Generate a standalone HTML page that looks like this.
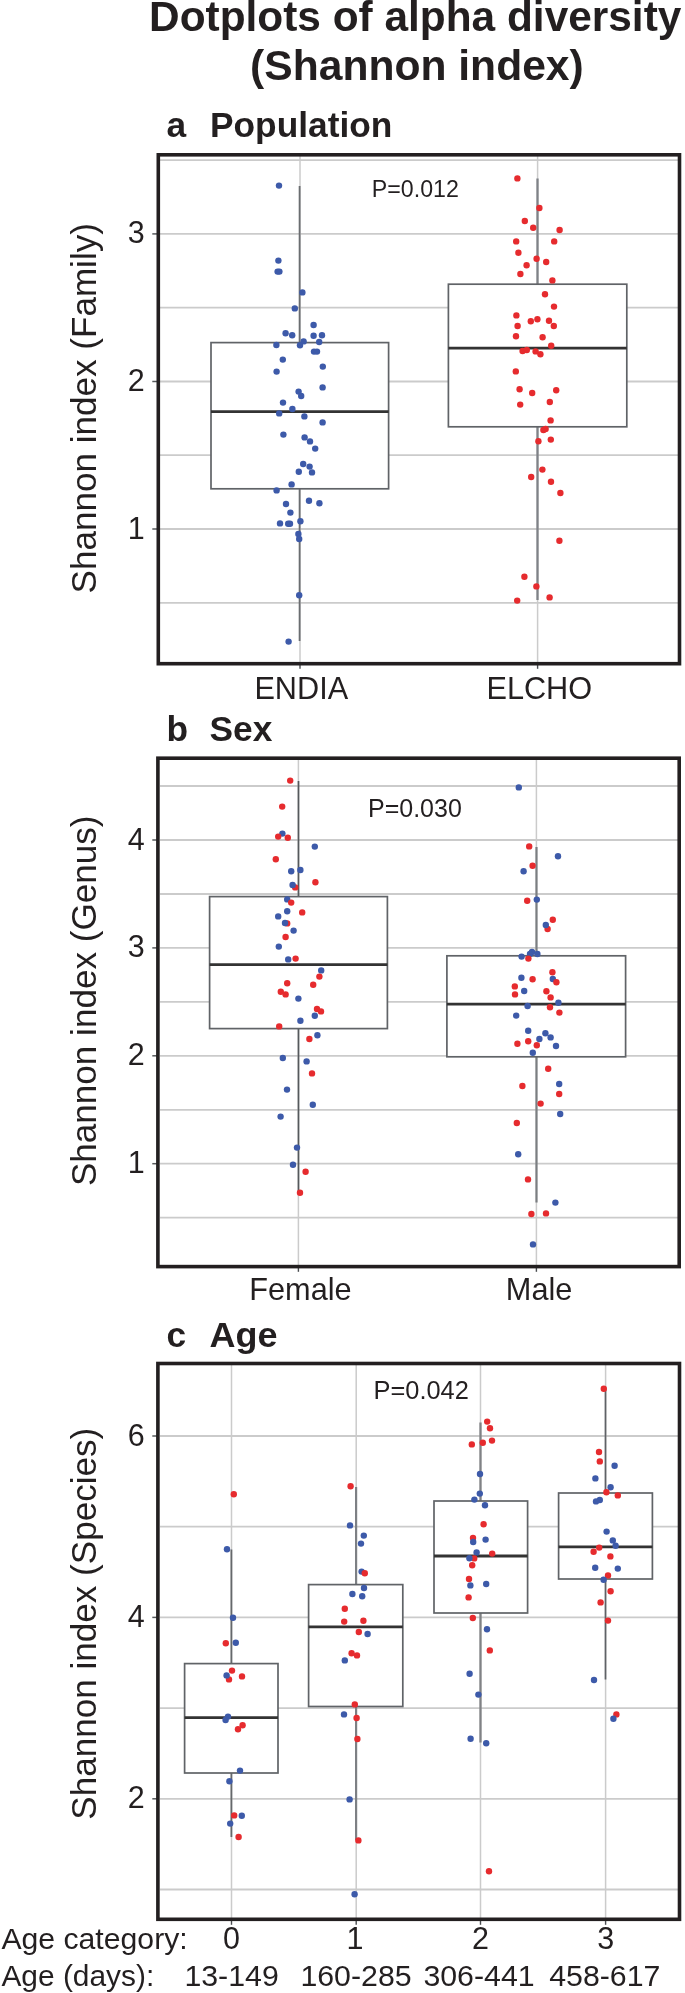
<!DOCTYPE html>
<html><head><meta charset="utf-8"><title>Dotplots of alpha diversity</title>
<style>
html,body{margin:0;padding:0;background:#fff;}
body{width:685px;height:1993px;overflow:hidden;}
svg{display:block;will-change:transform;}
text{font-family:"Liberation Sans", sans-serif;fill:#231f20;}
</style></head>
<body>
<svg width="685" height="1993" viewBox="0 0 685 1993">
<rect x="0" y="0" width="685" height="1993" fill="#fff"/>
<line x1="160" y1="160.1" x2="678" y2="160.1" stroke="#cbcbcb" stroke-width="1.8"/>
<line x1="160" y1="233.9" x2="678" y2="233.9" stroke="#cbcbcb" stroke-width="1.8"/>
<line x1="160" y1="307.7" x2="678" y2="307.7" stroke="#cbcbcb" stroke-width="1.8"/>
<line x1="160" y1="381.5" x2="678" y2="381.5" stroke="#cbcbcb" stroke-width="1.8"/>
<line x1="160" y1="455.2" x2="678" y2="455.2" stroke="#cbcbcb" stroke-width="1.8"/>
<line x1="160" y1="529.0" x2="678" y2="529.0" stroke="#cbcbcb" stroke-width="1.8"/>
<line x1="160" y1="602.8" x2="678" y2="602.8" stroke="#cbcbcb" stroke-width="1.8"/>
<line x1="300" y1="156" x2="300" y2="662" stroke="#cbcbcb" stroke-width="1.5"/>
<line x1="537.6" y1="156" x2="537.6" y2="662" stroke="#cbcbcb" stroke-width="1.5"/>
<line x1="152.3" y1="233.9" x2="158" y2="233.9" stroke="#55585b" stroke-width="1.5"/>
<line x1="152.3" y1="381.5" x2="158" y2="381.5" stroke="#55585b" stroke-width="1.5"/>
<line x1="152.3" y1="529.0" x2="158" y2="529.0" stroke="#55585b" stroke-width="1.5"/>
<line x1="300" y1="664" x2="300" y2="668.8" stroke="#4a4d50" stroke-width="1.4"/>
<line x1="537.6" y1="664" x2="537.6" y2="668.8" stroke="#4a4d50" stroke-width="1.4"/>
<line x1="299.6" y1="186" x2="299.6" y2="641" stroke="#6a6d70" stroke-width="1.8"/>
<rect x="211" y="342.6" width="177.60000000000002" height="146.2" fill="#fff" stroke="#606367" stroke-width="1.7"/>
<line x1="211" y1="411.6" x2="388.6" y2="411.6" stroke="#333" stroke-width="2.8"/>
<line x1="537.5" y1="178.4" x2="537.5" y2="600" stroke="#7f8287" stroke-width="2.3"/>
<rect x="448.4" y="284.2" width="178.39999999999998" height="142.60000000000002" fill="#fff" stroke="#606367" stroke-width="1.7"/>
<line x1="448.4" y1="348.2" x2="626.8" y2="348.2" stroke="#333" stroke-width="2.8"/>
<circle fill="#3d5aa9" cx="279" cy="185.6" r="3.2"/>
<circle fill="#3d5aa9" cx="278.4" cy="260.6" r="3.2"/>
<circle fill="#3d5aa9" cx="277.6" cy="271.6" r="3.2"/>
<circle fill="#3d5aa9" cx="279.4" cy="271.6" r="3.2"/>
<circle fill="#3d5aa9" cx="302.4" cy="292.4" r="3.2"/>
<circle fill="#3d5aa9" cx="294.8" cy="308.4" r="3.2"/>
<circle fill="#3d5aa9" cx="313.6" cy="325" r="3.2"/>
<circle fill="#3d5aa9" cx="285.6" cy="333.2" r="3.2"/>
<circle fill="#3d5aa9" cx="292.2" cy="335.2" r="3.2"/>
<circle fill="#3d5aa9" cx="313.6" cy="335.8" r="3.2"/>
<circle fill="#3d5aa9" cx="322" cy="335.2" r="3.2"/>
<circle fill="#3d5aa9" cx="303.6" cy="341.4" r="3.2"/>
<circle fill="#3d5aa9" cx="319.2" cy="342" r="3.2"/>
<circle fill="#3d5aa9" cx="276.4" cy="345" r="3.2"/>
<circle fill="#3d5aa9" cx="300" cy="345.2" r="3.2"/>
<circle fill="#3d5aa9" cx="314" cy="351.6" r="3.2"/>
<circle fill="#3d5aa9" cx="317" cy="351.6" r="3.2"/>
<circle fill="#3d5aa9" cx="282.8" cy="359.6" r="3.2"/>
<circle fill="#3d5aa9" cx="322.8" cy="366.6" r="3.2"/>
<circle fill="#3d5aa9" cx="276.6" cy="371.6" r="3.2"/>
<circle fill="#3d5aa9" cx="322.6" cy="387.4" r="3.2"/>
<circle fill="#3d5aa9" cx="298.6" cy="391.6" r="3.2"/>
<circle fill="#3d5aa9" cx="301.2" cy="396" r="3.2"/>
<circle fill="#3d5aa9" cx="283" cy="402.6" r="3.2"/>
<circle fill="#3d5aa9" cx="292.4" cy="409" r="3.2"/>
<circle fill="#3d5aa9" cx="279.2" cy="413.4" r="3.2"/>
<circle fill="#3d5aa9" cx="304.4" cy="416.4" r="3.2"/>
<circle fill="#3d5aa9" cx="322.6" cy="422.4" r="3.2"/>
<circle fill="#3d5aa9" cx="283.4" cy="434.6" r="3.2"/>
<circle fill="#3d5aa9" cx="304.6" cy="437.4" r="3.2"/>
<circle fill="#3d5aa9" cx="310" cy="441.4" r="3.2"/>
<circle fill="#3d5aa9" cx="315.2" cy="448.6" r="3.2"/>
<circle fill="#3d5aa9" cx="303.2" cy="464" r="3.2"/>
<circle fill="#3d5aa9" cx="309.6" cy="466.6" r="3.2"/>
<circle fill="#3d5aa9" cx="298.8" cy="471.8" r="3.2"/>
<circle fill="#3d5aa9" cx="312" cy="472.4" r="3.2"/>
<circle fill="#3d5aa9" cx="291.6" cy="484.4" r="3.2"/>
<circle fill="#3d5aa9" cx="276.6" cy="490.4" r="3.2"/>
<circle fill="#3d5aa9" cx="309" cy="500.8" r="3.2"/>
<circle fill="#3d5aa9" cx="319.4" cy="503.2" r="3.2"/>
<circle fill="#3d5aa9" cx="286" cy="504" r="3.2"/>
<circle fill="#3d5aa9" cx="290.4" cy="512.6" r="3.2"/>
<circle fill="#3d5aa9" cx="300.4" cy="521.2" r="3.2"/>
<circle fill="#3d5aa9" cx="280" cy="523.4" r="3.2"/>
<circle fill="#3d5aa9" cx="288.2" cy="523.8" r="3.2"/>
<circle fill="#3d5aa9" cx="290" cy="523.8" r="3.2"/>
<circle fill="#3d5aa9" cx="298.4" cy="534" r="3.2"/>
<circle fill="#3d5aa9" cx="299.2" cy="539" r="3.2"/>
<circle fill="#3d5aa9" cx="299.2" cy="595.2" r="3.2"/>
<circle fill="#3d5aa9" cx="288.6" cy="641.6" r="3.2"/>
<circle fill="#e62b2e" cx="517.4" cy="178.4" r="3.2"/>
<circle fill="#e62b2e" cx="539.4" cy="208" r="3.2"/>
<circle fill="#e62b2e" cx="524.8" cy="221" r="3.2"/>
<circle fill="#e62b2e" cx="533.2" cy="227.8" r="3.2"/>
<circle fill="#e62b2e" cx="559.6" cy="230" r="3.2"/>
<circle fill="#e62b2e" cx="516.2" cy="241.4" r="3.2"/>
<circle fill="#e62b2e" cx="554.2" cy="241.4" r="3.2"/>
<circle fill="#e62b2e" cx="518.4" cy="252.8" r="3.2"/>
<circle fill="#e62b2e" cx="536.6" cy="258.8" r="3.2"/>
<circle fill="#e62b2e" cx="546.2" cy="262" r="3.2"/>
<circle fill="#e62b2e" cx="526.6" cy="265.2" r="3.2"/>
<circle fill="#e62b2e" cx="520.4" cy="274" r="3.2"/>
<circle fill="#e62b2e" cx="552.4" cy="280.4" r="3.2"/>
<circle fill="#e62b2e" cx="545" cy="294.2" r="3.2"/>
<circle fill="#e62b2e" cx="554" cy="306.6" r="3.2"/>
<circle fill="#e62b2e" cx="516.4" cy="315.4" r="3.2"/>
<circle fill="#e62b2e" cx="530.8" cy="321.2" r="3.2"/>
<circle fill="#e62b2e" cx="537.4" cy="319.2" r="3.2"/>
<circle fill="#e62b2e" cx="549" cy="320.8" r="3.2"/>
<circle fill="#e62b2e" cx="553.8" cy="326" r="3.2"/>
<circle fill="#e62b2e" cx="517.6" cy="326" r="3.2"/>
<circle fill="#e62b2e" cx="516" cy="336.2" r="3.2"/>
<circle fill="#e62b2e" cx="542.6" cy="337.2" r="3.2"/>
<circle fill="#e62b2e" cx="551.2" cy="345.8" r="3.2"/>
<circle fill="#e62b2e" cx="522.6" cy="351" r="3.2"/>
<circle fill="#e62b2e" cx="526.8" cy="350" r="3.2"/>
<circle fill="#e62b2e" cx="535.6" cy="351.4" r="3.2"/>
<circle fill="#e62b2e" cx="540.4" cy="354.2" r="3.2"/>
<circle fill="#e62b2e" cx="515.8" cy="371.4" r="3.2"/>
<circle fill="#e62b2e" cx="519.6" cy="389.2" r="3.2"/>
<circle fill="#e62b2e" cx="532.2" cy="393" r="3.2"/>
<circle fill="#e62b2e" cx="556.2" cy="390.2" r="3.2"/>
<circle fill="#e62b2e" cx="549.8" cy="402" r="3.2"/>
<circle fill="#e62b2e" cx="520.2" cy="404.6" r="3.2"/>
<circle fill="#e62b2e" cx="550.6" cy="420.4" r="3.2"/>
<circle fill="#e62b2e" cx="543.4" cy="430" r="3.2"/>
<circle fill="#e62b2e" cx="545.6" cy="429" r="3.2"/>
<circle fill="#e62b2e" cx="538.4" cy="441.2" r="3.2"/>
<circle fill="#e62b2e" cx="550.8" cy="439.6" r="3.2"/>
<circle fill="#e62b2e" cx="542.4" cy="469.6" r="3.2"/>
<circle fill="#e62b2e" cx="531.2" cy="477" r="3.2"/>
<circle fill="#e62b2e" cx="551" cy="481.8" r="3.2"/>
<circle fill="#e62b2e" cx="560.4" cy="493" r="3.2"/>
<circle fill="#e62b2e" cx="559.4" cy="540.8" r="3.2"/>
<circle fill="#e62b2e" cx="524.4" cy="576.8" r="3.2"/>
<circle fill="#e62b2e" cx="536.4" cy="586.4" r="3.2"/>
<circle fill="#e62b2e" cx="549.6" cy="597.4" r="3.2"/>
<circle fill="#e62b2e" cx="517.2" cy="600.6" r="3.2"/>
<rect x="158.3" y="154.8" width="521.2" height="508.9" fill="none" stroke="#231f20" stroke-width="3.6"/>
<line x1="160" y1="786.0" x2="678" y2="786.0" stroke="#cbcbcb" stroke-width="1.8"/>
<line x1="160" y1="840.0" x2="678" y2="840.0" stroke="#cbcbcb" stroke-width="1.8"/>
<line x1="160" y1="894.0" x2="678" y2="894.0" stroke="#cbcbcb" stroke-width="1.8"/>
<line x1="160" y1="947.9" x2="678" y2="947.9" stroke="#cbcbcb" stroke-width="1.8"/>
<line x1="160" y1="1001.9" x2="678" y2="1001.9" stroke="#cbcbcb" stroke-width="1.8"/>
<line x1="160" y1="1055.8" x2="678" y2="1055.8" stroke="#cbcbcb" stroke-width="1.8"/>
<line x1="160" y1="1109.8" x2="678" y2="1109.8" stroke="#cbcbcb" stroke-width="1.8"/>
<line x1="160" y1="1163.7" x2="678" y2="1163.7" stroke="#cbcbcb" stroke-width="1.8"/>
<line x1="160" y1="1217.7" x2="678" y2="1217.7" stroke="#cbcbcb" stroke-width="1.8"/>
<line x1="298.4" y1="760" x2="298.4" y2="1265" stroke="#cbcbcb" stroke-width="1.5"/>
<line x1="536.4" y1="760" x2="536.4" y2="1265" stroke="#cbcbcb" stroke-width="1.5"/>
<line x1="152.3" y1="840.0" x2="158" y2="840.0" stroke="#55585b" stroke-width="1.5"/>
<line x1="152.3" y1="947.9" x2="158" y2="947.9" stroke="#55585b" stroke-width="1.5"/>
<line x1="152.3" y1="1055.8" x2="158" y2="1055.8" stroke="#55585b" stroke-width="1.5"/>
<line x1="152.3" y1="1163.7" x2="158" y2="1163.7" stroke="#55585b" stroke-width="1.5"/>
<line x1="298.4" y1="1267" x2="298.4" y2="1271.8" stroke="#4a4d50" stroke-width="1.4"/>
<line x1="536.4" y1="1267" x2="536.4" y2="1271.8" stroke="#4a4d50" stroke-width="1.4"/>
<line x1="298.5" y1="781" x2="298.5" y2="1192.4" stroke="#55595c" stroke-width="1.7"/>
<rect x="209.6" y="896.6" width="177.79999999999998" height="131.9999999999999" fill="#fff" stroke="#606367" stroke-width="1.7"/>
<line x1="209.6" y1="964.6" x2="387.4" y2="964.6" stroke="#333" stroke-width="2.8"/>
<line x1="536.5" y1="847" x2="536.5" y2="1202.4" stroke="#7b7e81" stroke-width="2.2"/>
<rect x="446.9" y="955.8" width="178.70000000000005" height="101.0" fill="#fff" stroke="#606367" stroke-width="1.7"/>
<line x1="446.9" y1="1004.2" x2="625.6" y2="1004.2" stroke="#333" stroke-width="2.8"/>
<circle fill="#e62b2e" cx="290.2" cy="780.6" r="3.2"/>
<circle fill="#e62b2e" cx="282.2" cy="806.6" r="3.2"/>
<circle fill="#3d5aa9" cx="282.4" cy="833.6" r="3.2"/>
<circle fill="#e62b2e" cx="278.2" cy="836.6" r="3.2"/>
<circle fill="#e62b2e" cx="287.8" cy="837.8" r="3.2"/>
<circle fill="#3d5aa9" cx="314.8" cy="846.6" r="3.2"/>
<circle fill="#e62b2e" cx="275.8" cy="859.2" r="3.2"/>
<circle fill="#3d5aa9" cx="291.2" cy="871.2" r="3.2"/>
<circle fill="#3d5aa9" cx="300.4" cy="870" r="3.2"/>
<circle fill="#e62b2e" cx="315.4" cy="882.2" r="3.2"/>
<circle fill="#e62b2e" cx="295.2" cy="887.4" r="3.2"/>
<circle fill="#3d5aa9" cx="292.6" cy="885" r="3.2"/>
<circle fill="#3d5aa9" cx="287.2" cy="899.4" r="3.2"/>
<circle fill="#e62b2e" cx="291.2" cy="902.6" r="3.2"/>
<circle fill="#3d5aa9" cx="287.2" cy="911.2" r="3.2"/>
<circle fill="#e62b2e" cx="302.2" cy="912.4" r="3.2"/>
<circle fill="#3d5aa9" cx="278.2" cy="916.4" r="3.2"/>
<circle fill="#e62b2e" cx="287.2" cy="923.4" r="3.2"/>
<circle fill="#3d5aa9" cx="285" cy="923" r="3.2"/>
<circle fill="#3d5aa9" cx="293.6" cy="930.6" r="3.2"/>
<circle fill="#e62b2e" cx="285.6" cy="937" r="3.2"/>
<circle fill="#3d5aa9" cx="278.8" cy="946.6" r="3.2"/>
<circle fill="#3d5aa9" cx="288.2" cy="959.4" r="3.2"/>
<circle fill="#e62b2e" cx="295.6" cy="958.6" r="3.2"/>
<circle fill="#3d5aa9" cx="321.2" cy="970.4" r="3.2"/>
<circle fill="#e62b2e" cx="319.4" cy="976.6" r="3.2"/>
<circle fill="#e62b2e" cx="287.2" cy="983.2" r="3.2"/>
<circle fill="#e62b2e" cx="313.2" cy="984.8" r="3.2"/>
<circle fill="#e62b2e" cx="280.8" cy="991.8" r="3.2"/>
<circle fill="#e62b2e" cx="285.6" cy="994.4" r="3.2"/>
<circle fill="#3d5aa9" cx="298.4" cy="998.6" r="3.2"/>
<circle fill="#e62b2e" cx="317" cy="1009" r="3.2"/>
<circle fill="#e62b2e" cx="321" cy="1011.4" r="3.2"/>
<circle fill="#3d5aa9" cx="314.8" cy="1015.8" r="3.2"/>
<circle fill="#3d5aa9" cx="300.4" cy="1020.8" r="3.2"/>
<circle fill="#e62b2e" cx="279.2" cy="1026.4" r="3.2"/>
<circle fill="#3d5aa9" cx="317.4" cy="1035.2" r="3.2"/>
<circle fill="#e62b2e" cx="309.4" cy="1039" r="3.2"/>
<circle fill="#3d5aa9" cx="282.8" cy="1058" r="3.2"/>
<circle fill="#3d5aa9" cx="306.6" cy="1061.4" r="3.2"/>
<circle fill="#e62b2e" cx="312" cy="1073.4" r="3.2"/>
<circle fill="#3d5aa9" cx="287" cy="1089.6" r="3.2"/>
<circle fill="#3d5aa9" cx="312.8" cy="1104.8" r="3.2"/>
<circle fill="#3d5aa9" cx="280.6" cy="1116.6" r="3.2"/>
<circle fill="#3d5aa9" cx="297" cy="1147.6" r="3.2"/>
<circle fill="#3d5aa9" cx="293" cy="1164.8" r="3.2"/>
<circle fill="#e62b2e" cx="305.6" cy="1171.8" r="3.2"/>
<circle fill="#e62b2e" cx="300" cy="1192.8" r="3.2"/>
<circle fill="#3d5aa9" cx="518.8" cy="787.4" r="3.2"/>
<circle fill="#e62b2e" cx="529.2" cy="846.4" r="3.2"/>
<circle fill="#3d5aa9" cx="558" cy="856.2" r="3.2"/>
<circle fill="#e62b2e" cx="532.6" cy="865.8" r="3.2"/>
<circle fill="#3d5aa9" cx="523.6" cy="871.2" r="3.2"/>
<circle fill="#e62b2e" cx="527.2" cy="900.8" r="3.2"/>
<circle fill="#3d5aa9" cx="536.8" cy="899.6" r="3.2"/>
<circle fill="#e62b2e" cx="552.8" cy="919.8" r="3.2"/>
<circle fill="#e62b2e" cx="547.6" cy="929" r="3.2"/>
<circle fill="#3d5aa9" cx="545.8" cy="925" r="3.2"/>
<circle fill="#3d5aa9" cx="532" cy="952" r="3.2"/>
<circle fill="#3d5aa9" cx="530" cy="954" r="3.2"/>
<circle fill="#3d5aa9" cx="537.4" cy="954" r="3.2"/>
<circle fill="#3d5aa9" cx="521.6" cy="956.6" r="3.2"/>
<circle fill="#e62b2e" cx="528.4" cy="958.6" r="3.2"/>
<circle fill="#e62b2e" cx="552.4" cy="972.2" r="3.2"/>
<circle fill="#3d5aa9" cx="521.4" cy="977.8" r="3.2"/>
<circle fill="#e62b2e" cx="532.6" cy="979.2" r="3.2"/>
<circle fill="#3d5aa9" cx="552.8" cy="979" r="3.2"/>
<circle fill="#e62b2e" cx="556.4" cy="982.2" r="3.2"/>
<circle fill="#e62b2e" cx="514.8" cy="986.4" r="3.2"/>
<circle fill="#3d5aa9" cx="524.2" cy="991" r="3.2"/>
<circle fill="#e62b2e" cx="546.4" cy="991.2" r="3.2"/>
<circle fill="#e62b2e" cx="515" cy="994.4" r="3.2"/>
<circle fill="#e62b2e" cx="550.6" cy="997.4" r="3.2"/>
<circle fill="#3d5aa9" cx="558.4" cy="1002.8" r="3.2"/>
<circle fill="#3d5aa9" cx="527.6" cy="1006" r="3.2"/>
<circle fill="#e62b2e" cx="550" cy="1007.2" r="3.2"/>
<circle fill="#e62b2e" cx="559.4" cy="1012.6" r="3.2"/>
<circle fill="#3d5aa9" cx="516.2" cy="1015.6" r="3.2"/>
<circle fill="#3d5aa9" cx="528.2" cy="1030.8" r="3.2"/>
<circle fill="#3d5aa9" cx="545.4" cy="1033.2" r="3.2"/>
<circle fill="#3d5aa9" cx="550.6" cy="1037.4" r="3.2"/>
<circle fill="#3d5aa9" cx="539.4" cy="1039" r="3.2"/>
<circle fill="#e62b2e" cx="517.4" cy="1043.8" r="3.2"/>
<circle fill="#e62b2e" cx="528.2" cy="1041.2" r="3.2"/>
<circle fill="#e62b2e" cx="536.8" cy="1045.2" r="3.2"/>
<circle fill="#3d5aa9" cx="556" cy="1046" r="3.2"/>
<circle fill="#3d5aa9" cx="532.8" cy="1052.8" r="3.2"/>
<circle fill="#e62b2e" cx="548.2" cy="1068.8" r="3.2"/>
<circle fill="#e62b2e" cx="522.4" cy="1086" r="3.2"/>
<circle fill="#3d5aa9" cx="559.2" cy="1084" r="3.2"/>
<circle fill="#e62b2e" cx="559.2" cy="1094" r="3.2"/>
<circle fill="#e62b2e" cx="540.6" cy="1103.6" r="3.2"/>
<circle fill="#3d5aa9" cx="560.2" cy="1114" r="3.2"/>
<circle fill="#e62b2e" cx="516.8" cy="1123" r="3.2"/>
<circle fill="#3d5aa9" cx="518.2" cy="1154.2" r="3.2"/>
<circle fill="#e62b2e" cx="528" cy="1179.4" r="3.2"/>
<circle fill="#3d5aa9" cx="555.4" cy="1202.6" r="3.2"/>
<circle fill="#e62b2e" cx="531.4" cy="1214" r="3.2"/>
<circle fill="#e62b2e" cx="546" cy="1213.4" r="3.2"/>
<circle fill="#3d5aa9" cx="533" cy="1244.4" r="3.2"/>
<rect x="157.9" y="758.2" width="521.3" height="508.4" fill="none" stroke="#231f20" stroke-width="3.6"/>
<line x1="160" y1="1436.0" x2="678" y2="1436.0" stroke="#cbcbcb" stroke-width="1.8"/>
<line x1="160" y1="1526.7" x2="678" y2="1526.7" stroke="#cbcbcb" stroke-width="1.8"/>
<line x1="160" y1="1617.4" x2="678" y2="1617.4" stroke="#cbcbcb" stroke-width="1.8"/>
<line x1="160" y1="1708.1" x2="678" y2="1708.1" stroke="#cbcbcb" stroke-width="1.8"/>
<line x1="160" y1="1798.8" x2="678" y2="1798.8" stroke="#cbcbcb" stroke-width="1.8"/>
<line x1="160" y1="1889.5" x2="678" y2="1889.5" stroke="#cbcbcb" stroke-width="1.8"/>
<line x1="231.5" y1="1365" x2="231.5" y2="1918" stroke="#cbcbcb" stroke-width="1.5"/>
<line x1="356.2" y1="1365" x2="356.2" y2="1918" stroke="#cbcbcb" stroke-width="1.5"/>
<line x1="480.5" y1="1365" x2="480.5" y2="1918" stroke="#cbcbcb" stroke-width="1.5"/>
<line x1="605.6" y1="1365" x2="605.6" y2="1918" stroke="#cbcbcb" stroke-width="1.5"/>
<line x1="152.3" y1="1436.0" x2="158" y2="1436.0" stroke="#55585b" stroke-width="1.5"/>
<line x1="152.3" y1="1617.4" x2="158" y2="1617.4" stroke="#55585b" stroke-width="1.5"/>
<line x1="152.3" y1="1798.8" x2="158" y2="1798.8" stroke="#55585b" stroke-width="1.5"/>
<line x1="231.5" y1="1920" x2="231.5" y2="1924.8" stroke="#4a4d50" stroke-width="1.4"/>
<line x1="356.2" y1="1920" x2="356.2" y2="1924.8" stroke="#4a4d50" stroke-width="1.4"/>
<line x1="480.5" y1="1920" x2="480.5" y2="1924.8" stroke="#4a4d50" stroke-width="1.4"/>
<line x1="605.6" y1="1920" x2="605.6" y2="1924.8" stroke="#4a4d50" stroke-width="1.4"/>
<line x1="231.4" y1="1549.6" x2="231.4" y2="1837" stroke="#65686b" stroke-width="1.8"/>
<rect x="184.6" y="1663.6" width="93.4" height="109.40000000000009" fill="#fff" stroke="#606367" stroke-width="1.7"/>
<line x1="184.6" y1="1717.6" x2="278" y2="1717.6" stroke="#333" stroke-width="2.8"/>
<line x1="356.1" y1="1487" x2="356.1" y2="1840" stroke="#7d8084" stroke-width="2.2"/>
<rect x="308.6" y="1584.6" width="94.19999999999999" height="121.90000000000009" fill="#fff" stroke="#606367" stroke-width="1.7"/>
<line x1="308.6" y1="1626.8" x2="402.8" y2="1626.8" stroke="#333" stroke-width="2.8"/>
<line x1="480.5" y1="1422.4" x2="480.5" y2="1742.6" stroke="#808285" stroke-width="2.3"/>
<rect x="434" y="1501" width="93.60000000000002" height="112" fill="#fff" stroke="#606367" stroke-width="1.7"/>
<line x1="434" y1="1556" x2="527.6" y2="1556" stroke="#333" stroke-width="2.8"/>
<line x1="605.5" y1="1389" x2="605.5" y2="1679.6" stroke="#5f6266" stroke-width="1.7"/>
<rect x="558.6" y="1493" width="93.79999999999995" height="86" fill="#fff" stroke="#606367" stroke-width="1.7"/>
<line x1="558.6" y1="1546.8" x2="652.4" y2="1546.8" stroke="#333" stroke-width="2.8"/>
<circle fill="#e62b2e" cx="233.8" cy="1494.2" r="3.2"/>
<circle fill="#3d5aa9" cx="227" cy="1549.2" r="3.2"/>
<circle fill="#3d5aa9" cx="233" cy="1617.8" r="3.2"/>
<circle fill="#e62b2e" cx="225.8" cy="1643.2" r="3.2"/>
<circle fill="#3d5aa9" cx="235.8" cy="1642.8" r="3.2"/>
<circle fill="#e62b2e" cx="232" cy="1670.6" r="3.2"/>
<circle fill="#e62b2e" cx="229" cy="1679.4" r="3.2"/>
<circle fill="#3d5aa9" cx="226.6" cy="1675.4" r="3.2"/>
<circle fill="#e62b2e" cx="242" cy="1676.4" r="3.2"/>
<circle fill="#3d5aa9" cx="228" cy="1716.6" r="3.2"/>
<circle fill="#3d5aa9" cx="225.6" cy="1720" r="3.2"/>
<circle fill="#e62b2e" cx="242.6" cy="1725.2" r="3.2"/>
<circle fill="#e62b2e" cx="238" cy="1729.2" r="3.2"/>
<circle fill="#3d5aa9" cx="240" cy="1770.6" r="3.2"/>
<circle fill="#3d5aa9" cx="229.4" cy="1781.2" r="3.2"/>
<circle fill="#e62b2e" cx="234.2" cy="1815.4" r="3.2"/>
<circle fill="#3d5aa9" cx="241.8" cy="1815.8" r="3.2"/>
<circle fill="#3d5aa9" cx="230.2" cy="1823.6" r="3.2"/>
<circle fill="#e62b2e" cx="238.6" cy="1837" r="3.2"/>
<circle fill="#e62b2e" cx="350.6" cy="1486.2" r="3.2"/>
<circle fill="#3d5aa9" cx="350" cy="1525.4" r="3.2"/>
<circle fill="#3d5aa9" cx="363.8" cy="1535.6" r="3.2"/>
<circle fill="#3d5aa9" cx="361" cy="1543.6" r="3.2"/>
<circle fill="#3d5aa9" cx="361.6" cy="1571.6" r="3.2"/>
<circle fill="#e62b2e" cx="364.8" cy="1573.2" r="3.2"/>
<circle fill="#3d5aa9" cx="364" cy="1588" r="3.2"/>
<circle fill="#3d5aa9" cx="352.4" cy="1594" r="3.2"/>
<circle fill="#3d5aa9" cx="362.2" cy="1596.2" r="3.2"/>
<circle fill="#e62b2e" cx="344.8" cy="1608.8" r="3.2"/>
<circle fill="#e62b2e" cx="344.2" cy="1621.6" r="3.2"/>
<circle fill="#e62b2e" cx="363.4" cy="1620.8" r="3.2"/>
<circle fill="#e62b2e" cx="358.8" cy="1632" r="3.2"/>
<circle fill="#3d5aa9" cx="367.6" cy="1634" r="3.2"/>
<circle fill="#e62b2e" cx="351.6" cy="1653.2" r="3.2"/>
<circle fill="#e62b2e" cx="357" cy="1655.4" r="3.2"/>
<circle fill="#3d5aa9" cx="344.8" cy="1660.4" r="3.2"/>
<circle fill="#e62b2e" cx="354.8" cy="1704.4" r="3.2"/>
<circle fill="#3d5aa9" cx="344" cy="1714.4" r="3.2"/>
<circle fill="#e62b2e" cx="356.6" cy="1718" r="3.2"/>
<circle fill="#e62b2e" cx="357.4" cy="1739" r="3.2"/>
<circle fill="#3d5aa9" cx="349.6" cy="1799.4" r="3.2"/>
<circle fill="#e62b2e" cx="358.4" cy="1840.4" r="3.2"/>
<circle fill="#3d5aa9" cx="354.6" cy="1894.2" r="3.2"/>
<circle fill="#e62b2e" cx="487.2" cy="1421.6" r="3.2"/>
<circle fill="#e62b2e" cx="490" cy="1428.2" r="3.2"/>
<circle fill="#e62b2e" cx="492" cy="1440.6" r="3.2"/>
<circle fill="#e62b2e" cx="482.8" cy="1442.8" r="3.2"/>
<circle fill="#e62b2e" cx="471.8" cy="1444.4" r="3.2"/>
<circle fill="#3d5aa9" cx="480" cy="1474" r="3.2"/>
<circle fill="#3d5aa9" cx="479.8" cy="1493.6" r="3.2"/>
<circle fill="#3d5aa9" cx="474.4" cy="1499.6" r="3.2"/>
<circle fill="#3d5aa9" cx="485" cy="1505.2" r="3.2"/>
<circle fill="#e62b2e" cx="483.6" cy="1524.2" r="3.2"/>
<circle fill="#e62b2e" cx="473" cy="1538" r="3.2"/>
<circle fill="#3d5aa9" cx="473.2" cy="1542" r="3.2"/>
<circle fill="#3d5aa9" cx="485.6" cy="1539.6" r="3.2"/>
<circle fill="#3d5aa9" cx="476.6" cy="1552.4" r="3.2"/>
<circle fill="#e62b2e" cx="492.2" cy="1553.6" r="3.2"/>
<circle fill="#e62b2e" cx="474.2" cy="1558.4" r="3.2"/>
<circle fill="#3d5aa9" cx="469.4" cy="1558.2" r="3.2"/>
<circle fill="#e62b2e" cx="472.2" cy="1565.2" r="3.2"/>
<circle fill="#e62b2e" cx="469" cy="1579" r="3.2"/>
<circle fill="#3d5aa9" cx="470.4" cy="1585.4" r="3.2"/>
<circle fill="#3d5aa9" cx="486.2" cy="1584" r="3.2"/>
<circle fill="#e62b2e" cx="468.6" cy="1597.4" r="3.2"/>
<circle fill="#e62b2e" cx="472.8" cy="1618" r="3.2"/>
<circle fill="#3d5aa9" cx="487" cy="1629.2" r="3.2"/>
<circle fill="#e62b2e" cx="489.8" cy="1650.4" r="3.2"/>
<circle fill="#3d5aa9" cx="469.6" cy="1673.8" r="3.2"/>
<circle fill="#3d5aa9" cx="478.4" cy="1694.6" r="3.2"/>
<circle fill="#3d5aa9" cx="470.6" cy="1738.8" r="3.2"/>
<circle fill="#3d5aa9" cx="486.2" cy="1743.2" r="3.2"/>
<circle fill="#e62b2e" cx="489" cy="1871.2" r="3.2"/>
<circle fill="#e62b2e" cx="603.8" cy="1388.8" r="3.2"/>
<circle fill="#e62b2e" cx="599" cy="1452" r="3.2"/>
<circle fill="#e62b2e" cx="599.8" cy="1461.4" r="3.2"/>
<circle fill="#3d5aa9" cx="614.6" cy="1465.8" r="3.2"/>
<circle fill="#3d5aa9" cx="595.4" cy="1478.4" r="3.2"/>
<circle fill="#3d5aa9" cx="610.6" cy="1487.2" r="3.2"/>
<circle fill="#e62b2e" cx="606.4" cy="1492.2" r="3.2"/>
<circle fill="#e62b2e" cx="617.8" cy="1495.4" r="3.2"/>
<circle fill="#3d5aa9" cx="599.8" cy="1500" r="3.2"/>
<circle fill="#3d5aa9" cx="596" cy="1501.4" r="3.2"/>
<circle fill="#3d5aa9" cx="606.6" cy="1531.6" r="3.2"/>
<circle fill="#3d5aa9" cx="612.8" cy="1540.4" r="3.2"/>
<circle fill="#3d5aa9" cx="615.6" cy="1545.8" r="3.2"/>
<circle fill="#e62b2e" cx="599.2" cy="1547.6" r="3.2"/>
<circle fill="#e62b2e" cx="593.6" cy="1551.8" r="3.2"/>
<circle fill="#e62b2e" cx="610.4" cy="1556.4" r="3.2"/>
<circle fill="#3d5aa9" cx="595.2" cy="1567.8" r="3.2"/>
<circle fill="#3d5aa9" cx="617.8" cy="1568.6" r="3.2"/>
<circle fill="#e62b2e" cx="608" cy="1575.4" r="3.2"/>
<circle fill="#3d5aa9" cx="603.6" cy="1579.8" r="3.2"/>
<circle fill="#e62b2e" cx="610.6" cy="1591.2" r="3.2"/>
<circle fill="#e62b2e" cx="600.6" cy="1602.4" r="3.2"/>
<circle fill="#e62b2e" cx="608" cy="1620.6" r="3.2"/>
<circle fill="#3d5aa9" cx="594" cy="1680" r="3.2"/>
<circle fill="#e62b2e" cx="616.4" cy="1714.4" r="3.2"/>
<circle fill="#3d5aa9" cx="613.4" cy="1718.8" r="3.2"/>
<rect x="157.9" y="1363.5" width="521.6" height="555.8" fill="none" stroke="#231f20" stroke-width="3.6"/>
<text x="415.2" y="30.7" font-size="42.4" font-weight="bold" text-anchor="middle" >Dotplots of alpha diversity</text>
<text x="416.9" y="80.3" font-size="42.6" font-weight="bold" text-anchor="middle" >(Shannon index)</text>
<text x="166.5" y="137.2" font-size="35.3" font-weight="bold" text-anchor="start" >a</text>
<text x="210" y="137.2" font-size="35.3" font-weight="bold" text-anchor="start" >Population</text>
<text x="166.5" y="741.3" font-size="35.3" font-weight="bold" text-anchor="start" >b</text>
<text x="209.5" y="741.3" font-size="35.3" font-weight="bold" text-anchor="start" >Sex</text>
<text x="166.5" y="1346.6" font-size="35.3" font-weight="bold" text-anchor="start" >c</text>
<text x="209.6" y="1346.6" font-size="35.3" font-weight="bold" text-anchor="start" textLength="68" lengthAdjust="spacingAndGlyphs">Age</text>
<text x="371.8" y="196.6" font-size="23.2" text-anchor="start" >P=0.012</text>
<text x="368" y="816.8" font-size="25" text-anchor="start" >P=0.030</text>
<text x="373.5" y="1398.6" font-size="25.4" text-anchor="start" >P=0.042</text>
<text transform="translate(96,408.3) rotate(-90)" font-size="35.1" text-anchor="middle">Shannon index (Family)</text>
<text transform="translate(96,1000.85) rotate(-90)" font-size="35.1" text-anchor="middle">Shannon index (Genus)</text>
<text transform="translate(96,1623.75) rotate(-90)" font-size="35.1" text-anchor="middle">Shannon index (Species)</text>
<text x="144.8" y="243.4" font-size="30.5" text-anchor="end" >3</text>
<text x="144.8" y="391.0" font-size="30.5" text-anchor="end" >2</text>
<text x="144.8" y="538.5" font-size="30.5" text-anchor="end" >1</text>
<text x="144.8" y="849.5" font-size="30.5" text-anchor="end" >4</text>
<text x="144.8" y="957.4" font-size="30.5" text-anchor="end" >3</text>
<text x="144.8" y="1065.3" font-size="30.5" text-anchor="end" >2</text>
<text x="144.8" y="1173.2" font-size="30.5" text-anchor="end" >1</text>
<text x="144.8" y="1445.5" font-size="30.5" text-anchor="end" >6</text>
<text x="144.8" y="1626.9" font-size="30.5" text-anchor="end" >4</text>
<text x="144.8" y="1808.3" font-size="30.5" text-anchor="end" >2</text>
<text x="301.3" y="698.7" font-size="30.7" text-anchor="middle" >ENDIA</text>
<text x="539.3" y="698.7" font-size="30.7" text-anchor="middle" >ELCHO</text>
<text x="300.45" y="1300" font-size="30.7" text-anchor="middle" >Female</text>
<text x="539.1" y="1300" font-size="30.7" text-anchor="middle" >Male</text>
<text x="1.4" y="1948.6" font-size="30.2" text-anchor="start" >Age category:</text>
<text x="1.4" y="1985.7" font-size="29.9" text-anchor="start" >Age (days):</text>
<text x="231.5" y="1948.6" font-size="30.5" text-anchor="middle" >0</text>
<text x="355" y="1948.6" font-size="30.5" text-anchor="middle" >1</text>
<text x="480.6" y="1948.6" font-size="30.5" text-anchor="middle" >2</text>
<text x="605.8" y="1948.6" font-size="30.5" text-anchor="middle" >3</text>
<text x="231.6" y="1985.7" font-size="30.3" text-anchor="middle" >13-149</text>
<text x="356" y="1985.7" font-size="30.3" text-anchor="middle" >160-285</text>
<text x="479" y="1985.7" font-size="30.3" text-anchor="middle" >306-441</text>
<text x="604.8" y="1985.7" font-size="30.3" text-anchor="middle" >458-617</text>
</svg>
</body></html>
